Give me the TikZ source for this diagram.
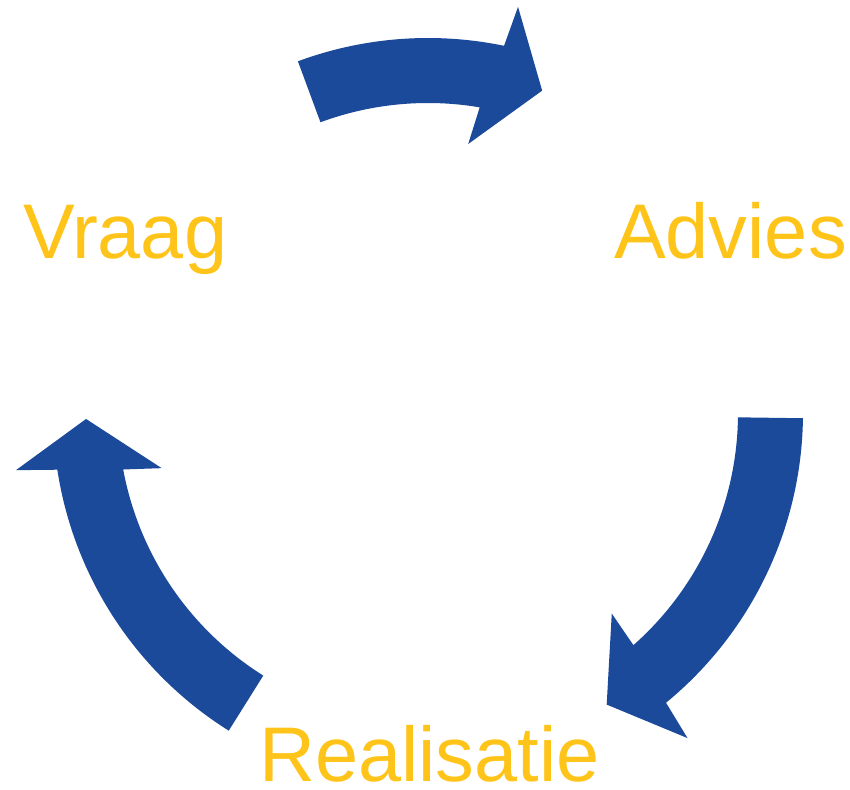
\documentclass[tikz,border=0pt]{standalone}
\usepackage{fontspec}
\setmainfont{Liberation Sans}
\definecolor{cycblue}{RGB}{27,74,155}
\definecolor{cycyellow}{RGB}{255,196,25}
\tikzset{
  arrowfill/.style={fill=cycblue},
  steplabel/.style={text=cycyellow, inner sep=0pt, anchor=base west, font=\fontsize{77.5}{77.5}\selectfont}
}
% #1 tail angle, #2 outer notch, #3 outer barb, #4 tip, #5 inner barb, #6 inner notch
\newcommand\cycarrow[6]{%
  \fill[arrowfill] (#1:375) arc[start angle=#1,end angle=#2,radius=375]
    -- (#3:416) -- (#4:342) -- (#5:272) -- (#6:310)
    arc[start angle=#6,end angle=#1,radius=310] -- cycle;}
\begin{document}
\begin{tikzpicture}[x=1pt,y=1pt]
\useasboundingbox (0,0) rectangle (850,789);
\begin{scope}[shift={(428,376)}]
  \cycarrow{110.3}{78.3}{77.5}{70.5}{81.5}{80.4}
  \cycarrow{-0.8}{-50.6}{-51.4}{-58.5}{-47.5}{-48.5}
  \cycarrow{237.9}{188.7}{187.9}{181}{191.7}{190.5}
\end{scope}
\node[steplabel] (vraag) at (23,530.7) {Vraag};
\node[steplabel] (advies) at (614,530.7) {Advies};
\node[steplabel] (realisatie) at (259,7.8) {Realisatie};
\end{tikzpicture}
\end{document}
